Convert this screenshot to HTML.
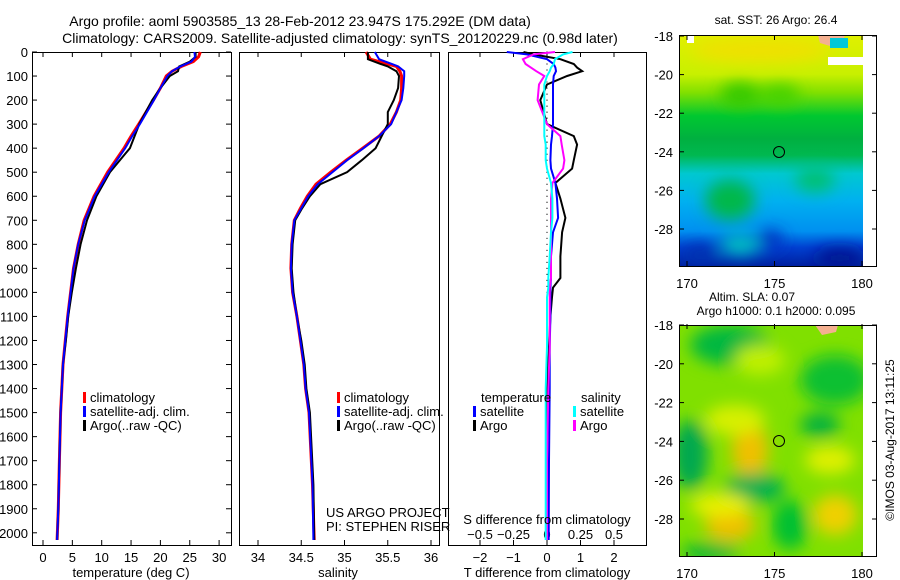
<!DOCTYPE html>
<html><head><meta charset="utf-8">
<style>
html,body{margin:0;padding:0;background:#fff;}
svg{display:block;font-family:"Liberation Sans",sans-serif;}
text{font-size:13px;fill:#000;}
</style></head>
<body>
<svg id="chart" width="900" height="580" viewBox="0 0 900 580" xmlns="http://www.w3.org/2000/svg">
<defs>
<linearGradient id="sstGrad" x1="0" y1="0" x2="0" y2="1">
<stop offset="0" stop-color="#e0f000"/>
<stop offset="0.17" stop-color="#c8f000"/>
<stop offset="0.25" stop-color="#80e000"/>
<stop offset="0.35" stop-color="#00c830"/>
<stop offset="0.45" stop-color="#00b040"/>
<stop offset="0.52" stop-color="#00b850"/>
<stop offset="0.6" stop-color="#00c8d0"/>
<stop offset="0.72" stop-color="#00b0f0"/>
<stop offset="0.85" stop-color="#0090f0"/>
<stop offset="0.92" stop-color="#0040d0"/>
<stop offset="1" stop-color="#0020a0"/>
</linearGradient>
<filter id="blur" x="-50%" y="-50%" width="200%" height="200%"><feGaussianBlur stdDeviation="8"/></filter>
<clipPath id="clipTop"><rect x="679" y="35" width="184" height="231"/></clipPath>
<clipPath id="clipBot"><rect x="679" y="325" width="184" height="232"/></clipPath>
</defs>

<text x="300" y="26" text-anchor="middle" style="font-size:14px">Argo profile: aoml 5903585_13 28-Feb-2012 23.947S 175.292E (DM data)</text>
<text x="340" y="43" text-anchor="middle" style="font-size:14px">Climatology: CARS2009. Satellite-adjusted climatology: synTS_20120229.nc (0.98d later)</text>

<g id="p1"></g>
<g id="p2"></g>
<g id="p3"></g>

<!-- SST map -->
<g>
<text x="776" y="24" text-anchor="middle" style="font-size:12px">sat. SST: 26 Argo: 26.4</text>
<g clip-path="url(#clipTop)">
<rect x="679" y="35" width="184" height="231" fill="url(#sstGrad)"/>
<g filter="url(#blur)">
<ellipse cx="760" cy="50" rx="70" ry="12" fill="#f0e000"/>
<ellipse cx="740" cy="95" rx="20" ry="12" fill="#30c800"/>
<ellipse cx="780" cy="95" rx="20" ry="10" fill="#40d000"/>
<ellipse cx="730" cy="200" rx="25" ry="20" fill="#00b848"/>
<ellipse cx="815" cy="180" rx="20" ry="12" fill="#00c070"/>
<ellipse cx="770" cy="240" rx="14" ry="10" fill="#0030c0"/>
<ellipse cx="840" cy="258" rx="25" ry="10" fill="#001890"/>
<ellipse cx="700" cy="255" rx="18" ry="10" fill="#0030b0"/>
<ellipse cx="740" cy="245" rx="20" ry="10" fill="#00c8c0"/>
</g>
<path d="M818 35 L845 35 L843 42 L830 46 L820 43 Z" fill="#f4b090"/>
<rect x="830" y="38" width="18" height="10" fill="#00c8d8"/>
<rect x="687" y="35" width="7" height="8" fill="#fff"/>
<rect x="828" y="57" width="35" height="8" fill="#fff"/>
</g>
<rect x="863" y="35" width="14" height="231" fill="#fff"/>
<circle cx="779" cy="152" r="5.5" fill="none" stroke="#000" stroke-width="1"/>
<rect x="679.5" y="35.5" width="197" height="231" fill="none" stroke="#000"/>
<g id="mapTopAxes"></g>
</g>

<!-- SLA map -->
<g>
<text x="752" y="301" text-anchor="middle" style="font-size:12px">Altim. SLA: 0.07</text>
<text x="776" y="315" text-anchor="middle" style="font-size:12px">Argo h1000: 0.1 h2000: 0.095</text>
<g clip-path="url(#clipBot)">
<rect x="679" y="325" width="184" height="232" fill="#80e000"/>
<g filter="url(#blur)">
<ellipse cx="730" cy="345" rx="40" ry="20" fill="#00b840"/>
<ellipse cx="835" cy="380" rx="35" ry="25" fill="#10c030"/>
<ellipse cx="690" cy="455" rx="18" ry="35" fill="#00a850"/>
<ellipse cx="750" cy="450" rx="18" ry="28" fill="#f0c000"/>
<ellipse cx="735" cy="420" rx="30" ry="15" fill="#d8f000"/>
<ellipse cx="820" cy="425" rx="20" ry="12" fill="#00b040"/>
<ellipse cx="830" cy="460" rx="25" ry="14" fill="#e0f000"/>
<ellipse cx="755" cy="488" rx="30" ry="15" fill="#00b050"/>
<ellipse cx="730" cy="525" rx="25" ry="16" fill="#f0c000"/>
<ellipse cx="720" cy="505" rx="30" ry="12" fill="#e8f000"/>
<ellipse cx="835" cy="515" rx="22" ry="20" fill="#f0d000"/>
<ellipse cx="790" cy="525" rx="18" ry="25" fill="#00c030"/>
<ellipse cx="710" cy="552" rx="30" ry="8" fill="#00b040"/>
<ellipse cx="760" cy="360" rx="25" ry="15" fill="#c0f000"/>
</g>
<path d="M815 325 L838 325 L836 332 L822 335 Z" fill="#f4b090"/>
</g>
<rect x="863" y="325" width="14" height="232" fill="#fff"/>
<circle cx="779" cy="441" r="5.5" fill="none" stroke="#000" stroke-width="1"/>
<rect x="679.5" y="325.5" width="197" height="231" fill="none" stroke="#000"/>
<g id="mapBotAxes"></g>
</g>
<text transform="translate(894,440) rotate(-90)" text-anchor="middle" style="font-size:12px">©IMOS 03-Aug-2017 13:11:25</text>
</svg>

<script>
// ---- data ----
const depthT = [0,20,40,60,80,100,150,200,300,350,400,500,600,700,800,900,1000,1100,1200,1300,1400,1500,1700,1900,2030];
const tempClim = [26.8,26.5,25.6,23.6,22.0,21.0,20.0,18.8,16.3,15.0,13.8,11.0,8.7,7.0,6.0,5.2,4.7,4.2,3.8,3.4,3.2,3.0,2.8,2.6,2.4];
const tempSat  = [25.8,25.9,25.3,23.4,22.0,21.2,20.0,18.9,16.5,15.2,14.0,11.2,8.8,7.1,6.0,5.2,4.7,4.2,3.8,3.4,3.2,3.0,2.8,2.6,2.4];
const tempArgo = [26.0,26.0,25.0,23.2,23.0,21.6,20.0,18.6,16.4,15.6,14.8,11.4,9.1,7.5,6.4,5.6,4.9,4.3,3.9,3.4,3.2,3.0,2.8,2.6,2.4];

const depthS = [0,30,50,60,80,100,150,200,250,300,350,400,450,500,550,600,650,700,800,900,1000,1100,1200,1300,1400,1500,1800,2030];
const salClim = [35.25,35.30,35.50,35.60,35.64,35.66,35.66,35.65,35.60,35.53,35.40,35.21,35.02,34.84,34.67,34.57,34.49,34.42,34.39,34.38,34.40,34.45,34.49,34.53,34.55,34.59,34.63,34.65];
const salSat  = [35.35,35.40,35.55,35.62,35.69,35.69,35.68,35.66,35.60,35.54,35.40,35.22,35.03,34.86,34.69,34.58,34.50,34.42,34.39,34.38,34.40,34.45,34.49,34.53,34.55,34.59,34.63,34.64];
const salArgo = [35.27,35.27,35.42,35.50,35.60,35.63,35.62,35.57,35.50,35.50,35.43,35.36,35.20,35.03,34.72,34.60,34.51,34.43,34.40,34.39,34.41,34.45,34.50,34.54,34.56,34.60,34.64,34.65];

const depthD = [0,10,30,50,65,80,100,135,200,300,350,385,450,485,545,610,690,750,850,940,980,1020,1100,1226,1400,1700,2030];
const dTsat  = [-1.2,-0.6,0.0,0.2,0.25,0.27,0.2,0.18,0.18,0.18,0.15,0.12,0.1,0.12,0.25,0.3,0.33,0.18,0.12,0.12,0.1,0.1,0.1,0.08,0.08,0.06,0.05];
const dTargo = [-0.7,-0.4,0.4,0.8,0.9,1.05,0.6,0.0,-0.2,0.0,0.8,0.9,0.8,0.75,0.25,0.4,0.55,0.45,0.4,0.4,0.18,0.15,0.1,0.06,0.0,-0.02,-0.03];
const dSsat  = [0.19,0.12,0.06,0.05,0.03,0.02,0.0,-0.02,-0.02,-0.02,-0.02,-0.01,-0.01,0.0,0.03,0.04,0.04,0.03,0.02,0.01,0.01,0.0,0.0,0.0,-0.01,-0.01,-0.01];
const dSargo = [0.06,-0.1,-0.18,-0.16,-0.12,-0.08,-0.02,-0.06,-0.07,0.0,0.1,0.11,0.13,0.12,0.04,0.03,0.03,0.03,0.03,0.03,0.02,0.02,0.02,0.02,0.01,0.0,0.0];

const depthTicks = [0,100,200,300,400,500,600,700,800,900,1000,1100,1200,1300,1400,1500,1600,1700,1800,1900,2000];
const tTicks = [0,5,10,15,20,25,30];
const sTicks = [34,34.5,35,35.5,36];
const dTTicks = [-2,-1,0,1,2];
const dSTicks = [-0.5,-0.25,0,0.25,0.5];
const latTicks = [-18,-20,-22,-24,-26,-28];
const lonTicks = [170,175,180];

// ---- scales ----
const NS = 'http://www.w3.org/2000/svg';
const top0 = 52, bot = 545;
const yD = d => top0 + d * 0.2404;
const xT = v => 43 + v * 5.87;
const xS = v => 258 + (v - 34) * 86.5;
const xDT = v => 547 + v * 33.5;
const xDS = v => 547 + v * 134;

function el(tag, attrs, parent, txt){
  const e = document.createElementNS(NS, tag);
  for (const k in attrs) e.setAttribute(k, attrs[k]);
  if (txt !== undefined) e.textContent = txt;
  parent.appendChild(e);
  return e;
}
function line(parent, xs, ys, xf, color, name, w){
  let d = '';
  for (let i = 0; i < xs.length; i++) d += (i ? 'L' : 'M') + xf(xs[i]).toFixed(1) + ' ' + yD(ys[i]).toFixed(1);
  const p = el('path', {d: d, fill: 'none', stroke: color, 'stroke-width': w || 2}, parent);
  
  
}
function frame(parent, x0, x1){
  el('rect', {x: x0 + .5, y: top0 + .5, width: x1 - x0, height: bot - top0, fill: 'none', stroke: '#000'}, parent);
}
function xAxis(parent, ticks, xf, yLab, fmt){
  ticks.forEach(t => {
    const x = xf(t);
    el('line', {x1: x, x2: x, y1: bot, y2: bot - 5, stroke: '#000'}, parent);
    el('line', {x1: x, x2: x, y1: top0, y2: top0 + 5, stroke: '#000'}, parent);
    const lb = el('text', {x: x, y: yLab, 'text-anchor': 'middle'}, parent, fmt ? fmt(t) : String(t));
    
    
  });
}
function legendEntry(parent, x, y, color, label){
  el('rect', {x: x, y: y - 10, width: 3, height: 11, fill: color}, parent);
  const t = el('text', {x: x + 7, y: y, 'font-size': 12}, parent, label);
  
  
}

// panel 1
const p1 = document.getElementById('p1');
frame(p1, 32, 231);
depthTicks.forEach(d => {
  const y = yD(d);
  el('line', {x1: 32, x2: 37, y1: y, y2: y, stroke: '#000'}, p1);
  el('line', {x1: 231, x2: 226, y1: y, y2: y, stroke: '#000'}, p1);
  const t = el('text', {x: 28, y: y + 5, 'text-anchor': 'end'}, p1, String(d));
  
  
});
xAxis(p1, tTicks, xT, 562);
const t1 = el('text', {x: 131, y: 577, 'text-anchor': 'middle'}, p1, 'temperature (deg C)');


line(p1, tempClim, depthT, xT, '#ff0000', 'temp-climatology-line', 3);
line(p1, tempArgo, depthT, xT, '#000000', 'temp-argo-line', 2);
line(p1, tempSat, depthT, xT, '#0000ff', 'temp-satellite-line', 2);
legendEntry(p1, 83, 402, '#ff0000', 'climatology');
legendEntry(p1, 83, 416, '#0000ff', 'satellite-adj. clim.');
legendEntry(p1, 83, 430, '#000000', 'Argo(..raw -QC)');

// panel 2
const p2 = document.getElementById('p2');
frame(p2, 239, 439);
xAxis(p2, sTicks, xS, 562);
const t2 = el('text', {x: 338, y: 577, 'text-anchor': 'middle'}, p2, 'salinity');


line(p2, salClim, depthS, xS, '#ff0000', 'sal-climatology-line', 3);
line(p2, salArgo, depthS, xS, '#000000', 'sal-argo-line', 2);
line(p2, salSat, depthS, xS, '#0000ff', 'sal-satellite-line', 2);
legendEntry(p2, 337, 402, '#ff0000', 'climatology');
legendEntry(p2, 337, 416, '#0000ff', 'satellite-adj. clim.');
legendEntry(p2, 337, 430, '#000000', 'Argo(..raw -QC)');
const c1 = el('text', {x: 326, y: 517, 'font-size': 12}, p2, 'US ARGO PROJECT');


const c2 = el('text', {x: 326, y: 531, 'font-size': 12}, p2, 'PI: STEPHEN RISER');



// panel 3
const p3 = document.getElementById('p3');
frame(p3, 448, 646);
dTTicks.forEach(t => {
  const x = xDT(t);
  el('line', {x1: x, x2: x, y1: bot, y2: bot - 5, stroke: '#000'}, p3);
  const lb = el('text', {x: x, y: 562, 'text-anchor': 'middle'}, p3, t < 0 ? '\u2212' + (-t) : String(t));
  
  
});
dSTicks.forEach(t => {
  const x = xDS(t);
  el('line', {x1: x, x2: x, y1: top0, y2: top0 + 5, stroke: '#000'}, p3);
  const lb = el('text', {x: x, y: 539, 'text-anchor': 'middle', 'font-size': 12}, p3, t < 0 ? '\u2212' + (-t) : String(t));
  
  
});
for (let d = 0; d <= 2000; d += 25) el('circle', {cx: 547, cy: yD(d), r: 0.6, fill: '#000'}, p3);
line(p3, dTargo, depthD, xDT, '#000000', 't-diff-argo-line', 2);
line(p3, dTsat, depthD, xDT, '#0000ff', 't-diff-satellite-line', 2);
line(p3, dSargo, depthD, xDS, '#ff00ff', 's-diff-argo-line', 2);
line(p3, dSsat, depthD, xDS, '#00ffff', 's-diff-satellite-line', 2);
const ta = el('text', {x: 547, y: 577, 'text-anchor': 'middle'}, p3, 'T difference from climatology');


const sa = el('text', {x: 547, y: 524, 'text-anchor': 'middle', 'font-size': 12}, p3, 'S difference from climatology');


const lt = el('text', {x: 481, y: 402, 'font-size': 12}, p3, 'temperature');


const ls = el('text', {x: 581, y: 402, 'font-size': 12}, p3, 'salinity');


legendEntry(p3, 473, 416, '#0000ff', 'satellite');
legendEntry(p3, 473, 430, '#000000', 'Argo');
legendEntry(p3, 573, 416, '#00ffff', 'satellite');
legendEntry(p3, 573, 430, '#ff00ff', 'Argo');

// map axes
function mapAxes(id, yTop, pxLat, yBottom, labY){
  const g = document.getElementById(id);
  latTicks.forEach(l => {
    const y = yTop + (-18 - l) * pxLat;
    el('line', {x1: 679, x2: 684, y1: y, y2: y, stroke: '#000'}, g);
    el('line', {x1: 877, x2: 872, y1: y, y2: y, stroke: '#000'}, g);
    const t = el('text', {x: 673, y: y + 5, 'text-anchor': 'end', 'font-size': 12}, g, '-' + (-l));
    
    
  });
  lonTicks.forEach(l => {
    const x = 687 + (l - 170) * 17.5;
    el('line', {x1: x, x2: x, y1: yBottom, y2: yBottom - 5, stroke: '#000'}, g);
    el('line', {x1: x, x2: x, y1: yTop - 1, y2: yTop + 4, stroke: '#000'}, g);
    const t = el('text', {x: x, y: labY, 'text-anchor': 'middle', 'font-size': 12}, g, String(l));
    
    
  });
}
mapAxes('mapTopAxes', 36, 19.3, 266, 288);
mapAxes('mapBotAxes', 325, 19.4, 557, 578);
</script>
</body></html>
